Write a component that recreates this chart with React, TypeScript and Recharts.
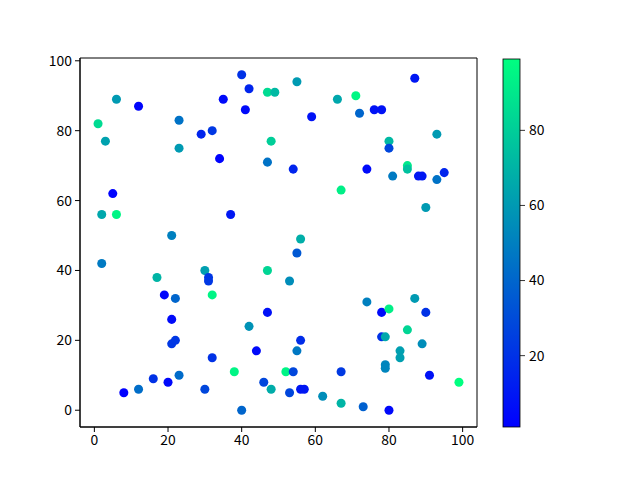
import { ScatterChart, Scatter, XAxis, YAxis, ZAxis, Cell, ReferenceArea } from "recharts";

// point positions and colour values
const xValues = [
  1, 2, 2, 3, 5, 6, 6, 8, 12, 12, 16, 17, 19, 20, 21, 21, 21, 22, 22, 23,
  23, 23, 29, 30, 30, 31, 31, 32, 32, 32, 34, 35, 37, 38, 40, 40, 41, 42, 42, 44,
  46, 47, 47, 47, 47, 48, 48, 49, 52, 53, 54, 53, 54, 55, 55, 55, 56, 56, 56, 57,
  59, 62, 66, 67, 67, 67, 71, 72, 73, 74, 74, 76, 78, 78, 78, 79, 79, 79, 80, 80,
  80, 80, 81, 83, 83, 85, 85, 85, 87, 87, 89, 88, 89, 90, 90, 91, 93, 93, 95, 99,
];
const yValues = [
  82, 56, 42, 77, 62, 89, 56, 5, 87, 6, 9, 38, 33, 8, 50, 26, 19, 20, 32, 83,
  75, 10, 79, 40, 6, 38, 37, 80, 33, 15, 72, 89, 56, 11, 96, 0, 86, 92, 24, 17,
  8, 91, 71, 40, 28, 77, 6, 91, 11, 37, 69, 5, 11, 94, 45, 17, 49, 20, 6, 6,
  84, 4, 89, 63, 11, 2, 90, 85, 1, 69, 31, 86, 86, 28, 21, 21, 13, 12, 77, 75,
  29, 0, 67, 17, 15, 70, 69, 23, 95, 32, 67, 67, 19, 58, 28, 10, 66, 79, 68, 8,
];
const cValues = [
  85, 65, 48, 63, 2, 60, 95, 1, 3, 43, 20, 70, 3, 4, 50, 5, 22, 22, 40, 45,
  60, 42, 15, 62, 28, 22, 22, 22, 95, 20, 2, 5, 10, 95, 20, 40, 5, 15, 57, 5,
  28, 85, 45, 83, 7, 80, 67, 72, 95, 55, 15, 28, 28, 60, 35, 47, 68, 18, 10, 10,
  8, 55, 65, 93, 23, 70, 96, 40, 38, 5, 50, 8, 8, 5, 20, 65, 52, 52, 72, 28,
  93, 4, 48, 62, 62, 90, 75, 83, 10, 60, 10, 10, 55, 60, 20, 8, 45, 60, 15, 99,
];
const axisTicks = [0, 20, 40, 60, 80, 100];
const colorbarTicks = [20, 40, 60, 80];

const data = xValues.map((x, i) => ({ x, y: yValues[i], c: cValues[i] }));
const cMin = Math.min(...cValues);
const cMax = Math.max(...cValues);

// matplotlib "winter": blue -> spring green
const winter = (v: number) => {
  const t = (v - cMin) / (cMax - cMin);
  return `rgb(0, ${Math.round(t * 255)}, ${Math.round((1 - 0.5 * t) * 255)})`;
};

const font = "'Noto Sans CJK SC', 'Liberation Sans', sans-serif";
const xDomain = [-3.9, 103.9];
const yDomain = [-4.8, 100.8];

// colorbar geometry
const cbLeft = 503;
const cbWidth = 17;
const cbTop = 59;
const cbBottom = 427;

function Colorbar() {
  const toY = (v: number) => cbBottom - ((v - cMin) / (cMax - cMin)) * (cbBottom - cbTop);
  return (
    <svg width={640} height={480} style={{ position: "absolute", left: 0, top: 0, pointerEvents: "none" }}>
      <defs>
        <linearGradient id="winterGrad" x1="0" y1="1" x2="0" y2="0">
          <stop offset="0%" stopColor="rgb(0,0,255)" />
          <stop offset="100%" stopColor="rgb(0,255,128)" />
        </linearGradient>
      </defs>
      <rect x={cbLeft} y={cbTop} width={cbWidth} height={cbBottom - cbTop} fill="url(#winterGrad)" stroke="#000" strokeWidth={0.8} />
      {colorbarTicks.map((t) => (
        <g key={t}>
          <line x1={cbLeft + cbWidth} x2={cbLeft + cbWidth + 5} y1={toY(t)} y2={toY(t)} stroke="#000" strokeWidth={0.8} />
          <text x={cbLeft + cbWidth + 9} y={toY(t)} dy="0.35em" fontSize={13.9} fontFamily={font} fill="#000">
            {t}
          </text>
        </g>
      ))}
    </svg>
  );
}

export default function App() {
  return (
    <div style={{ position: "absolute", left: 0, top: 0, width: 640, height: 480, background: "#fff" }}>
      <ScatterChart width={640} height={480} margin={{ top: 58, right: 163, bottom: 23, left: 40 }}>
        <XAxis
          type="number"
          dataKey="x"
          domain={xDomain}
          ticks={axisTicks}
          allowDataOverflow
          height={30}
          tickSize={5}
          tickMargin={3}
          stroke="#000"
          tick={{ fill: "#000", fontSize: 13.9, fontFamily: font }}
        />
        <YAxis
          type="number"
          dataKey="y"
          domain={yDomain}
          ticks={axisTicks}
          allowDataOverflow
          width={40}
          tickSize={5}
          tickMargin={3}
          stroke="#000"
          tick={{ fill: "#000", fontSize: 13.9, fontFamily: font }}
        />
        <ZAxis range={[55, 55]} />
        <ReferenceArea
          x1={xDomain[0]}
          x2={xDomain[1]}
          y1={yDomain[0]}
          y2={yDomain[1]}
          fill="none"
          stroke="#000"
          strokeWidth={1}
          ifOverflow="visible"
        />
        <Scatter data={data} shape="circle" isAnimationActive={false}>
          {data.map((d, i) => (
            <Cell key={i} fill={winter(d.c)} />
          ))}
        </Scatter>
      </ScatterChart>
      <Colorbar />
    </div>
  );
}
